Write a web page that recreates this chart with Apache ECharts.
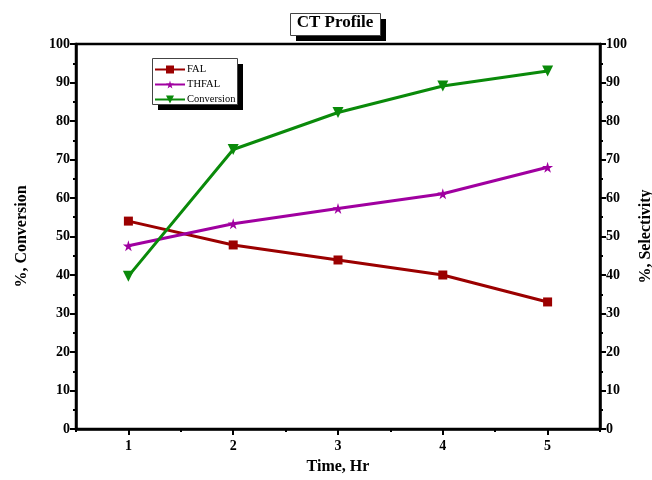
<!DOCTYPE html>
<html>
<head>
<meta charset="utf-8">
<script src="https://cdn.jsdelivr.net/npm/echarts@6/dist/echarts.min.js"></script>
<style>
html,body{margin:0;padding:0;background:#fff;}
#chart{width:652px;height:480px;}
</style>
</head>
<body>
<div id="chart"></div>
<script>
var timeLabels = ['1', '2', '3', '4', '5'];
var falValues = [54.0, 47.8, 43.9, 40.0, 33.0];
var thfalValues = [47.6, 53.3, 57.3, 61.1, 68.0];
var conversionValues = [39.7, 72.6, 82.2, 89.1, 93.0];

var FONT = 'Liberation Serif';
var starPath = 'path://M50,0 L61,35 L98,35 L68,57 L79,91 L50,70 L21,91 L32,57 L2,35 L39,35 Z';

var chart = echarts.init(document.getElementById('chart'), null, {renderer: 'canvas'});

var yAxisCommon = {
  type: 'value', min: 0, max: 100, interval: 10,
  axisLine: {show: true, lineStyle: {color: '#000', width: 2.5}},
  axisTick: {show: true, length: 6, lineStyle: {color: '#000', width: 2}},
  minorTick: {show: true, splitNumber: 2, length: 3, lineStyle: {color: '#000', width: 2}},
  splitLine: {show: false},
  axisLabel: {color: '#000', fontFamily: FONT, fontWeight: 'bold', fontSize: 14, margin: 6},
  nameLocation: 'middle',
  nameRotate: 90,
  nameTextStyle: {color: '#000', fontFamily: FONT, fontWeight: 'bold', fontSize: 16}
};

chart.setOption({
  backgroundColor: '#fff',
  animation: false,
  graphic: [
    {type: 'rect', z: 1, shape: {x: 296, y: 19, width: 90, height: 22}, style: {fill: '#000'}},
    {type: 'rect', z: 2, shape: {x: 290.5, y: 13.5, width: 90, height: 22}, style: {fill: '#fff', stroke: '#444', lineWidth: 1}},
    {type: 'rect', z: 1, shape: {x: 158, y: 64, width: 85, height: 46}, style: {fill: '#000'}},
    {type: 'rect', z: 2, shape: {x: 152.5, y: 58.5, width: 85, height: 46}, style: {fill: '#fff', stroke: '#444', lineWidth: 1}}
  ],
  title: {
    text: 'CT Profile',
    left: 335, top: 14, textAlign: 'center',
    padding: 0,
    z: 10,
    textStyle: {color: '#000', fontFamily: FONT, fontWeight: 'bold', fontSize: 17}
  },
  legend: {
    orient: 'vertical',
    left: 154, top: 64,
    padding: 0,
    itemGap: 4,
    itemWidth: 30, itemHeight: 10,
    z: 10,
    textStyle: {color: '#000', fontFamily: FONT, fontSize: 10.5, padding: [0, 0, 0, -3]},
    data: ['FAL', 'THFAL', 'Conversion']
  },
  grid: {
    left: 76, right: 52, top: 44, bottom: 51,
    outerBoundsMode: 'none', containLabel: false,
    show: true, borderColor: '#000', borderWidth: 2.5, backgroundColor: 'transparent'
  },
  xAxis: [{
    type: 'category', data: timeLabels, boundaryGap: true,
    name: 'Time, Hr', nameLocation: 'middle', nameGap: 30,
    nameTextStyle: {color: '#000', fontFamily: FONT, fontWeight: 'bold', fontSize: 16},
    axisLine: {show: true, lineStyle: {color: '#000', width: 2.5}},
    axisTick: {show: true, alignWithLabel: true, length: 6, lineStyle: {color: '#000', width: 2}},
    axisLabel: {color: '#000', fontFamily: FONT, fontWeight: 'bold', fontSize: 14, margin: 10},
    splitLine: {show: false}
  }, {
    type: 'category', data: timeLabels, boundaryGap: true, position: 'bottom',
    axisLine: {show: false},
    axisTick: {show: true, alignWithLabel: false, length: 3, lineStyle: {color: '#000', width: 2}},
    axisLabel: {show: false},
    splitLine: {show: false}
  }],
  yAxis: [
    Object.assign({}, yAxisCommon, {position: 'left', name: '%, Conversion', nameGap: 46}),
    Object.assign({}, yAxisCommon, {position: 'right', name: '%, Selectivity', nameGap: 22})
  ],
  series: [{
    name: 'FAL', type: 'line', xAxisIndex: 0, yAxisIndex: 1,
    data: falValues,
    symbol: 'rect', symbolSize: 9,
    itemStyle: {color: '#9b0000'},
    lineStyle: {color: '#9b0000', width: 3}
  }, {
    name: 'THFAL', type: 'line', xAxisIndex: 0, yAxisIndex: 1,
    data: thfalValues,
    symbol: starPath, symbolSize: 11,
    itemStyle: {color: '#a000a0'},
    lineStyle: {color: '#a000a0', width: 3}
  }, {
    name: 'Conversion', type: 'line', xAxisIndex: 0, yAxisIndex: 0,
    data: conversionValues,
    symbol: 'triangle', symbolRotate: 180, symbolSize: 11,
    itemStyle: {color: '#0a8a0a'},
    lineStyle: {color: '#0a8a0a', width: 3}
  }]
});
</script>
</body>
</html>
